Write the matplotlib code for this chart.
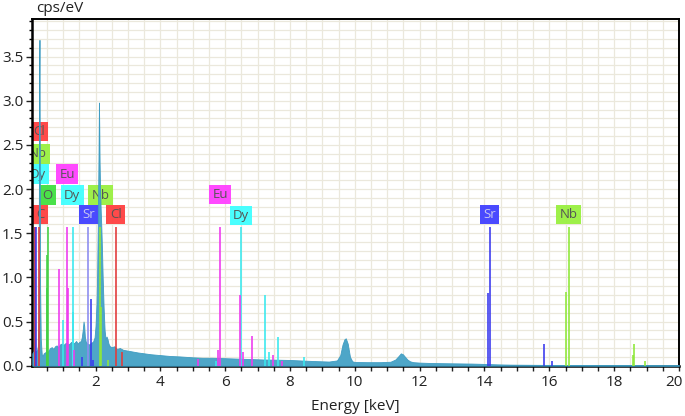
import matplotlib
matplotlib.use("Agg")
import matplotlib.pyplot as plt
from matplotlib.ticker import MultipleLocator, FixedLocator
from matplotlib.transforms import ScaledTranslation

plt.rcParams['font.family'] = ['Open Sans', 'DejaVu Sans']

# ---------------- spectrum ----------------
energy = [0.05, 0.08, 0.11, 0.14, 0.17, 0.20, 0.22, 0.24, 0.25, 0.26, 0.27, 0.28, 0.29, 0.31,
          0.34, 0.37, 0.40, 0.44, 0.48, 0.52, 0.56, 0.60, 0.65, 0.70, 0.75, 0.80, 0.85,
          0.90, 0.95, 1.00, 1.05, 1.10, 1.15, 1.20, 1.25, 1.30, 1.35, 1.40, 1.45, 1.50,
          1.55, 1.58, 1.61, 1.63, 1.65, 1.67, 1.70, 1.74, 1.80, 1.86, 1.92, 1.97, 2.00,
          2.03, 2.05, 2.07, 2.09, 2.105, 2.115, 2.125, 2.14, 2.16, 2.18, 2.20, 2.22, 2.25,
          2.28, 2.31, 2.34, 2.37, 2.40, 2.44, 2.50, 2.58, 2.66, 2.75, 2.85, 3.0, 3.15,
          3.3, 3.5, 3.7, 4.0, 4.3, 4.6, 5.0, 5.3, 5.6, 6.0, 6.4, 6.8, 7.2, 7.6, 8.0, 8.4,
          8.8, 9.2, 9.45, 9.55, 9.62, 9.68, 9.72, 9.78, 9.85, 9.92, 10.0, 10.4, 10.8,
          11.1, 11.25, 11.35, 11.42, 11.48, 11.55, 11.62, 11.7, 11.8, 12.0, 12.4, 12.8,
          13.2, 13.6, 14.0, 14.4, 14.8, 15.5, 16.5, 17.5, 18.5, 19.5, 20.0]
counts = [0.14, 0.16, 0.15, 0.17, 0.16, 0.18, 0.22, 0.5, 1.6, 3.2, 3.69, 2.4, 0.9, 0.3,
          0.13, 0.11, 0.14, 0.15, 0.16, 0.15, 0.18, 0.20, 0.21, 0.19, 0.22, 0.23, 0.21,
          0.24, 0.25, 0.23, 0.25, 0.26, 0.24, 0.25, 0.27, 0.25, 0.26, 0.28, 0.25, 0.27,
          0.28, 0.33, 0.42, 0.50, 0.45, 0.33, 0.27, 0.25, 0.24, 0.26, 0.27, 0.32, 0.45,
          0.70, 1.05, 1.60, 2.3, 2.98, 2.7, 2.3, 2.0, 1.75, 1.55, 1.30, 1.0, 0.65,
          0.40, 0.30, 0.33, 0.30, 0.25, 0.22, 0.21, 0.22, 0.19, 0.20, 0.18, 0.17, 0.16,
          0.15, 0.14, 0.13, 0.12, 0.11, 0.105, 0.095, 0.09, 0.09, 0.085, 0.08, 0.075,
          0.07, 0.068, 0.065, 0.058, 0.052, 0.047, 0.06, 0.12, 0.24, 0.30, 0.31, 0.25,
          0.10, 0.05, 0.042, 0.04, 0.04, 0.045, 0.07, 0.11, 0.14, 0.13, 0.10, 0.07, 0.05,
          0.04, 0.035, 0.03, 0.028, 0.026, 0.024, 0.02, 0.015, 0.012, 0.01, 0.008, 0.006,
          0.006, 0.005, 0.005]

# ---------------- element line markers ----------------
line_elements = ["Sr", "Cl", "Sr", "C", "O", "O", "O",
                 "Eu", "Dy", "Eu", "Eu", "Dy", "Dy", "Eu", "Sr", "Sr", "Sr", "Sr",
                 "Nb", "Nb", "Nb", "Cl", "Cl",
                 "Eu", "Dy", "Eu", "Eu", "Dy", "Eu", "Eu", "Dy", "Eu", "Dy", "Dy", "Eu", "Eu", "Dy",
                 "Sr", "Sr", "Sr", "Sr", "Nb", "Nb", "Nb", "Nb", "Nb"]
line_energy = [0.12, 0.14, 0.16, 0.27, 0.50, 0.51, 0.525,
               0.87, 1.00, 1.13, 1.15, 1.29, 1.31, 1.33, 1.58, 1.78, 1.86, 1.93,
               2.14, 2.17, 2.37, 2.62, 2.81,
               5.17, 5.72, 5.79, 5.85, 6.49, 6.45, 6.56, 7.23, 6.83, 7.36, 7.62, 7.48, 7.75, 8.42,
               14.10, 14.16, 15.83, 16.07, 16.52, 16.60, 18.59, 18.62, 18.95]
line_height = [1.57, 1.57, 1.57, 1.57, 0.88, 1.25, 1.57,
               1.10, 0.52, 1.57, 0.88, 1.57, 0.61, 0.18, 0.10, 1.57, 0.75, 0.06,
               1.57, 0.67, 0.07, 1.57, 0.15,
               0.08, 0.05, 0.18, 1.57, 1.57, 0.80, 0.16, 0.80, 0.34, 0.15, 0.33, 0.12, 0.05, 0.10,
               0.82, 1.57, 0.245, 0.05, 0.83, 1.57, 0.12, 0.25, 0.05]

# ---------------- labels ----------------
label_text = ["Cl", "Nb", "Dy", "Eu", "O", "Dy", "Nb", "C", "Sr", "Cl", "Eu", "Dy", "Sr", "Nb"]
label_x = [0.26, 0.21, 0.21, 1.13, 0.51, 1.28, 2.16, 0.29, 1.80, 2.62, 5.85, 6.49, 14.16, 16.60]
label_y = [2.65, 2.40, 2.17, 2.17, 1.93, 1.93, 1.93, 1.71, 1.71, 1.71, 1.94, 1.70, 1.71, 1.71]

line_colors = {"C": "#e23a3a", "Cl": "#e23a3a", "O": "#44d044", "Nb": "#8fe83a",
               "Dy": "#3ae8ee", "Eu": "#ee3aee", "Sr": "#3a3aee"}
box_colors = {"C": "#ff4040", "Cl": "#ff4040", "O": "#40e040", "Nb": "#99f040",
              "Dy": "#40ffff", "Eu": "#ff40ff", "Sr": "#4040ff"}

fig = plt.figure(figsize=(6.85, 4.16), dpi=100)
ax = fig.add_axes([0.0472, 0.1209, 0.9440, 0.8334])
ax.set_facecolor("white")

ax.set_xlim(0.05, 20)
ax.set_ylim(0, 3.926)

ax.xaxis.set_major_locator(FixedLocator([2, 4, 6, 8, 10, 12, 14, 16, 18, 20]))
ax.xaxis.set_minor_locator(MultipleLocator(0.5))
ax.yaxis.set_major_locator(MultipleLocator(0.5))
ax.yaxis.set_minor_locator(MultipleLocator(0.1))
ax.yaxis.set_major_formatter(matplotlib.ticker.FormatStrFormatter("%.1f"))

ax.grid(True, which="both", color="#ebe8dc", linewidth=0.9, zorder=0)
ax.set_axisbelow(True)

ax.tick_params(axis="x", which="both", direction="out", length=3.8, width=1.0,
               labelsize=11, colors="#222222", pad=3)
ax.tick_params(axis="y", which="major", direction="out", length=4.5, width=1.0,
               labelsize=11, colors="#222222", pad=2)
ax.tick_params(axis="y", which="minor", direction="out", length=2.4, width=1.0)

for s in ["left", "bottom"]:
    ax.spines[s].set_linewidth(1.8)
for s in ["top", "right"]:
    ax.spines[s].set_linewidth(1.4)
for s in ax.spines.values():
    s.set_color("black")

# label boxes
for t, x, y in zip(label_text, label_x, label_y):
    tc = "#c8c8f0" if t == "Sr" else "#555555"
    ax.text(x, y, t, ha="center", va="center", fontsize=9.5, color=tc, zorder=2,
            clip_on=True,
            bbox=dict(boxstyle="square,pad=0.25", facecolor=box_colors[t],
                      edgecolor="none", alpha=0.95))

# spectrum
ax.fill_between(energy, counts, 0, color="#4ea6c8", linewidth=0.6,
                edgecolor="#3f9cc2", zorder=3)

# element lines
for el, e, h in zip(line_elements, line_energy, line_height):
    c = line_colors[el]
    if el == "Sr" and abs(e - 1.78) < 0.01:
        c = "#8c8cf0"
    ax.vlines(e, 0, h, colors=c, linewidth=1.3, alpha=0.9, zorder=4)

fig.canvas.draw()
last = ax.get_xticklabels()[-1]
last.set_transform(last.get_transform() + ScaledTranslation(-5 / 100, 0, fig.dpi_scale_trans))

fig.text(36 / 685, 1 - 9 / 416, "cps/eV", ha="left", va="center",
         fontsize=11, color="#222222")
fig.text(355 / 685, 1 - 406 / 416, "Energy [keV]", ha="center", va="center",
         fontsize=11, color="#222222")

fig.savefig("out.png", dpi=100, facecolor="white")
